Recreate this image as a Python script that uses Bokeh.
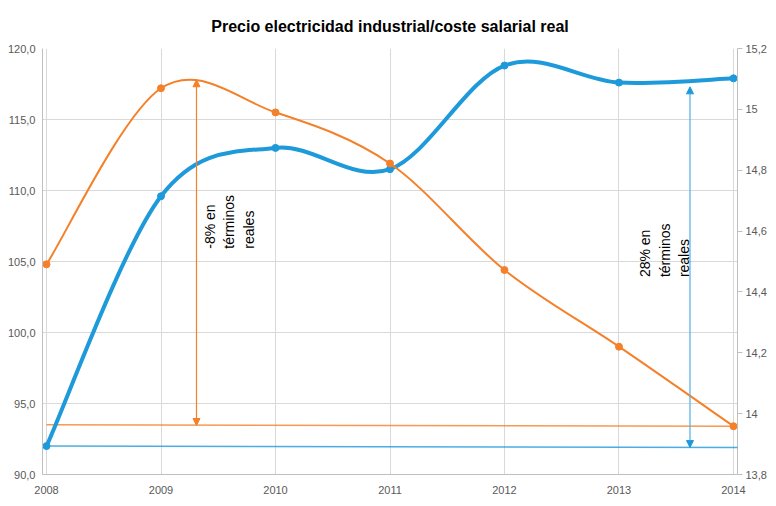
import numpy as np
from bokeh.plotting import figure
from bokeh.models import (Range1d, LinearAxis, FixedTicker, CustomJSTickFormatter,
                          Arrow, NormalHead, Label)
from bokeh.embed import file_html
from bokeh.resources import INLINE

# ---------------- data ----------------
titulo = "Precio electricidad industrial/coste salarial real"
anios = [2008, 2009, 2010, 2011, 2012, 2013, 2014]
serie_azul = [92.0, 109.6, 113.0, 111.5, 118.8, 117.6, 117.9]
serie_naranja = [104.8, 117.2, 115.5, 111.9, 104.4, 99.0, 93.4]
ticks_izq = [90, 95, 100, 105, 110, 115, 120]
ticks_der = [13.8, 14.0, 14.2, 14.4, 14.6, 14.8, 15.0, 15.2]
ref_naranja_x = [2008, 2014]
ref_naranja_y = [93.5, 93.4]
ref_azul_x = [2008, 2014.17]
ref_azul_y = [92.0, 91.9]
flecha_naranja_x = 2009.31
flecha_naranja_y = [93.45, 117.8]
flecha_azul_x = 2013.62
flecha_azul_y = [91.9, 117.3]
texto_naranja = "-8% en\ntérminos\nreales"
texto_naranja_pos = (2009.36, 105.9)
texto_azul = "28% en\ntérminos\nreales"
texto_azul_pos = (2013.16, 103.9)

AZUL = "#1E9ADB"
NARANJA = "#F5802A"
GRIS_TXT = "#595959"
FONT = "Liberation Sans"

PAD = 4 / 114.4  # small room so end markers are not cut by the frame


def bezier_segments(xs, ys):
    xs = np.asarray(xs, float)
    ys = np.asarray(ys, float)
    n = len(xs)
    out = {k: [] for k in ("x0", "y0", "x1", "y1", "cx0", "cy0", "cx1", "cy1")}
    for i in range(n - 1):
        pm = max(i - 1, 0)
        pp = min(i + 2, n - 1)
        out["x0"].append(xs[i]); out["y0"].append(ys[i])
        out["x1"].append(xs[i + 1]); out["y1"].append(ys[i + 1])
        out["cx0"].append(xs[i] + (xs[i + 1] - xs[pm]) / 6.0)
        out["cy0"].append(ys[i] + (ys[i + 1] - ys[pm]) / 6.0)
        out["cx1"].append(xs[i + 1] - (xs[pp] - xs[i]) / 6.0)
        out["cy1"].append(ys[i + 1] - (ys[pp] - ys[i]) / 6.0)
    return out


p = figure(frame_width=695, frame_height=426,
           x_range=Range1d(anios[0] - PAD, anios[-1] + PAD), y_range=Range1d(90, 120),
           output_backend="svg", toolbar_location=None,
           min_border_left=42, min_border_right=29,
           min_border_top=48, min_border_bottom=23,
           title=titulo)
p.outline_line_color = None
p.background_fill_color = "white"
p.border_fill_color = "white"

p.title.text_font = FONT
p.title.text_font_size = "16px"
p.title.text_font_style = "bold"
p.title.text_color = "black"
p.title.align = "center"
p.title.standoff = 28

# axes
p.xaxis.ticker = FixedTicker(ticks=anios)
p.yaxis.ticker = FixedTicker(ticks=ticks_izq)
p.yaxis.formatter = CustomJSTickFormatter(code="return tick.toFixed(1).replace('.', ',');")
for ax in (p.xaxis[0], p.yaxis[0]):
    ax.axis_line_color = "#BFBFBF"
    ax.major_tick_in = 0
    ax.major_tick_out = 0
    ax.minor_tick_in = 0
    ax.minor_tick_out = 0
    ax.major_label_text_font = FONT
    ax.major_label_text_font_size = "11px"
    ax.major_label_text_color = GRIS_TXT
p.xaxis.major_label_standoff = 11
p.yaxis.major_label_standoff = 7

p.extra_y_ranges = {"der": Range1d(13.8, 15.2)}
ax_der = LinearAxis(y_range_name="der", ticker=FixedTicker(ticks=ticks_der),
                    formatter=CustomJSTickFormatter(
                        code="var s = (Math.round(tick*10)/10).toString(); return s.replace('.', ',');"))
ax_der.axis_line_color = "#BFBFBF"
ax_der.major_tick_line_color = "#BFBFBF"
ax_der.major_tick_in = 0
ax_der.major_tick_out = 5
ax_der.minor_tick_in = 0
ax_der.minor_tick_out = 0
ax_der.major_label_standoff = 3
ax_der.major_label_text_font = FONT
ax_der.major_label_text_font_size = "11px"
ax_der.major_label_text_color = GRIS_TXT
p.add_layout(ax_der, "right")

p.xgrid.grid_line_color = "#D9D9D9"
p.ygrid.grid_line_color = "#D9D9D9"

# reference lines
p.line(ref_naranja_x, ref_naranja_y, line_color=NARANJA, line_width=1.5, line_alpha=0.8)
p.add_layout(Arrow(start=None, end=None, x_start=ref_azul_x[0], y_start=ref_azul_y[0],
                   x_end=ref_azul_x[1], y_end=ref_azul_y[1],
                   line_color=AZUL, line_width=1.5, line_alpha=0.8))

# smooth series
sa = bezier_segments(anios, serie_azul)
p.bezier(**sa, line_color=AZUL, line_width=4, line_cap="round")
p.scatter(anios, serie_azul, size=7, color=AZUL)

sn = bezier_segments(anios, serie_naranja)
p.bezier(**sn, line_color=NARANJA, line_width=2, line_cap="round")
p.scatter(anios, serie_naranja, size=7, color=NARANJA)

# arrows
p.add_layout(Arrow(x_start=flecha_naranja_x, y_start=flecha_naranja_y[0],
                   x_end=flecha_naranja_x, y_end=flecha_naranja_y[1],
                   line_color=NARANJA, line_width=1.2,
                   start=NormalHead(size=7, fill_color=NARANJA, line_color=NARANJA),
                   end=NormalHead(size=7, fill_color=NARANJA, line_color=NARANJA)))
p.add_layout(Arrow(x_start=flecha_azul_x, y_start=flecha_azul_y[0],
                   x_end=flecha_azul_x, y_end=flecha_azul_y[1],
                   line_color="#4FB0E3", line_width=1.2,
                   start=NormalHead(size=7, fill_color=AZUL, line_color=AZUL),
                   end=NormalHead(size=7, fill_color=AZUL, line_color=AZUL)))

# texts
for txt, pos in ((texto_naranja, texto_naranja_pos), (texto_azul, texto_azul_pos)):
    p.add_layout(Label(x=pos[0], y=pos[1], text=txt, angle=np.pi / 2,
                       text_align="left", text_baseline="top",
                       text_font=FONT, text_font_size="14px",
                       text_color="black", text_line_height=1.2))

open("out.html", "w").write(file_html(p, INLINE))
